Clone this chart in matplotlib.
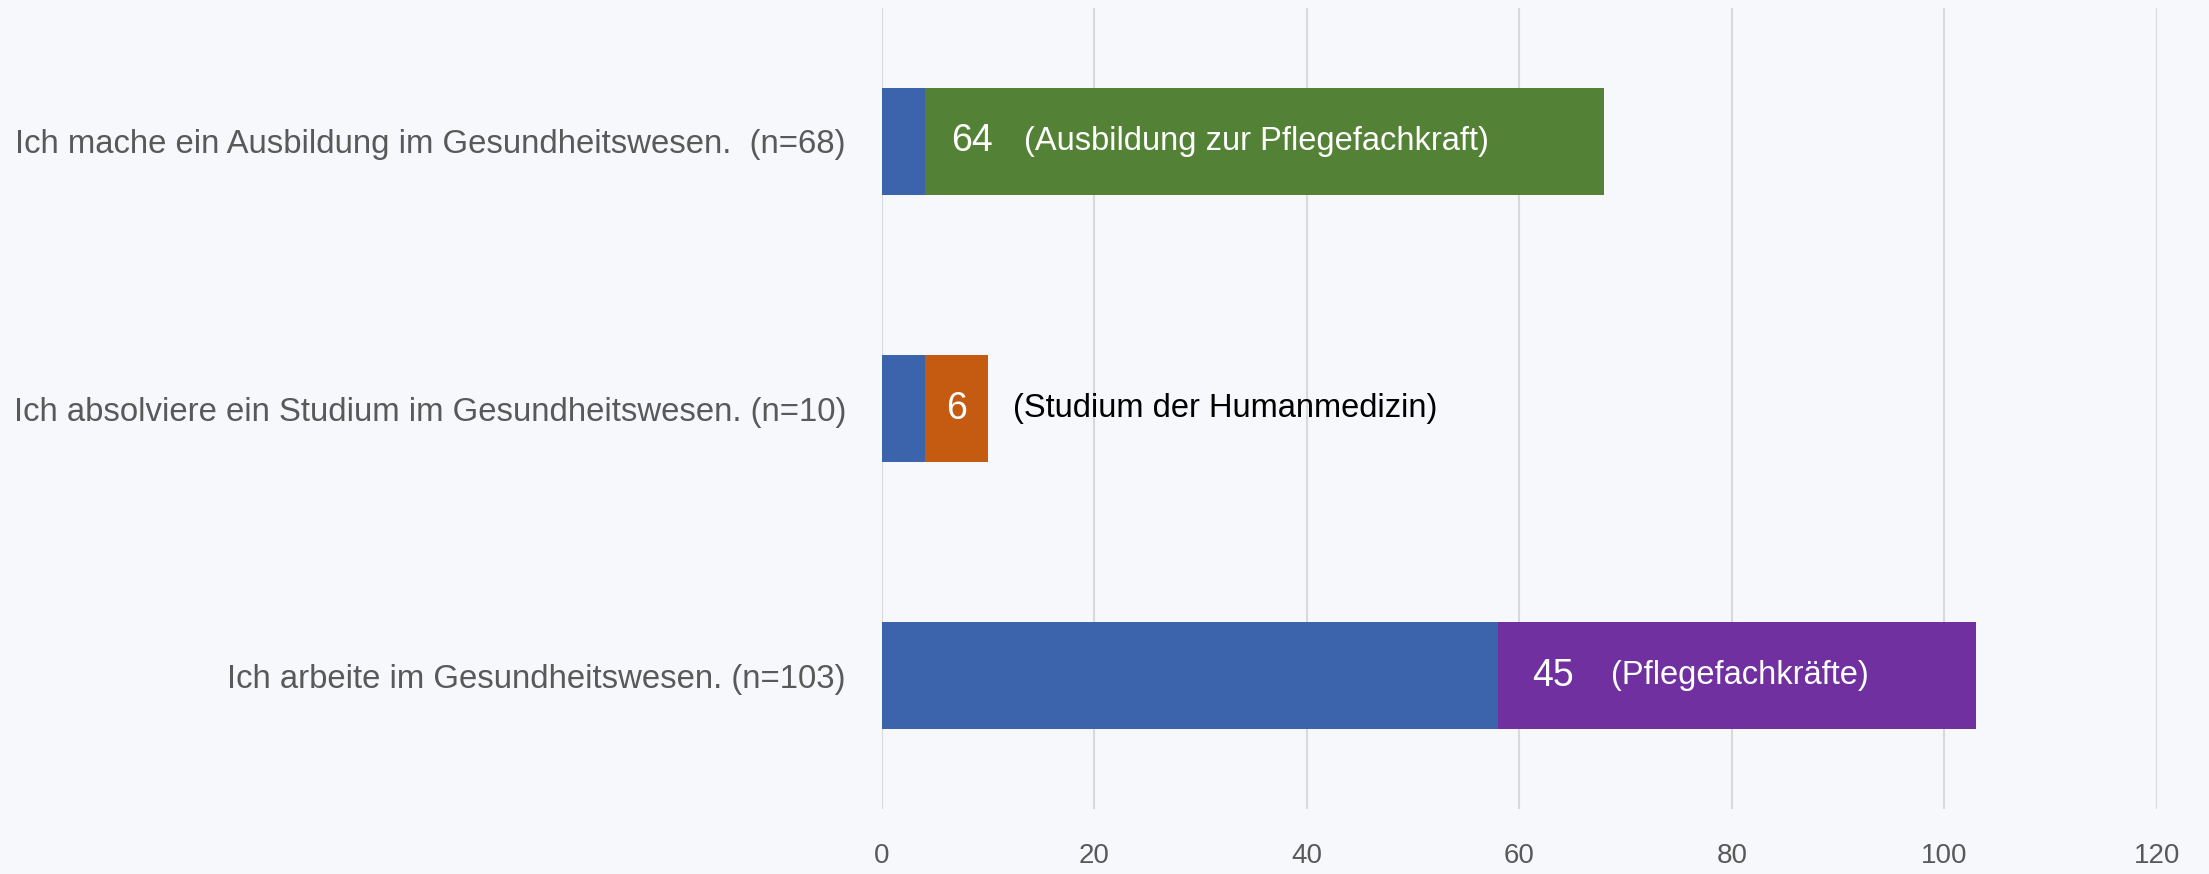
import numpy as np
import matplotlib
matplotlib.use('Agg')
import matplotlib.pyplot as plt

plt.rcParams['font.family'] = ['Liberation Sans', 'DejaVu Sans']

# categories from bottom to top
categories = [
    'Ich arbeite im Gesundheitswesen. (n=103)',
    'Ich absolviere ein Studium im Gesundheitswesen. (n=10)',
    'Ich mache ein Ausbildung im Gesundheitswesen.  (n=68)',
]
rest_values = [58, 4, 4]
special_values = [45, 6, 64]
special_labels = ['(Pflegefachkräfte)', '(Studium der Humanmedizin)', '(Ausbildung zur Pflegefachkraft)']
x_ticks = [0, 20, 40, 60, 80, 100, 120]

blue = '#3c64ac'
special_colors = ['#7030a0', '#c55a11', '#538135']
label_colors = ['white', 'black', 'white']
bg = '#f7f8fb'

# text placement (offset from the start of the coloured segment, x units)
num_offset = [3.2, None, 2.5]
desc_offset = [10.6, 8.3, 9.4]

fig = plt.figure(figsize=(22.09, 8.74), dpi=100)
fig.patch.set_facecolor(bg)
ax = fig.add_axes([0.3993, 0.074, 0.577, 0.917])
ax.set_facecolor(bg)

y = np.arange(len(categories))
ax.barh(y, rest_values, height=0.4, color=blue, zorder=3)
ax.barh(y, special_values, left=rest_values, height=0.4, color=special_colors, zorder=3)

# number in the coloured segment, then its description
for i in range(len(y)):
    start = rest_values[i]
    val = special_values[i]
    if num_offset[i] is None:
        ax.text(start + val / 2, y[i], str(val), color='white', fontsize=27,
                ha='center', va='center', zorder=4)
    else:
        ax.text(start + num_offset[i], y[i], str(val), color='white', fontsize=27,
                ha='left', va='center', zorder=4)
    ax.text(start + desc_offset[i], y[i], special_labels[i], color=label_colors[i],
            fontsize=23.5, ha='left', va='center', zorder=4)

ax.set_xlim(0, 120)
ax.set_ylim(-0.5, 2.5)
ax.set_xticks(x_ticks)
ax.set_xticklabels([str(t) for t in x_ticks])
ax.set_yticks(y)
ax.set_yticklabels(categories)
ax.tick_params(axis='both', length=0, labelcolor='#595959')
ax.tick_params(axis='y', pad=26, labelsize=23.7)
ax.tick_params(axis='x', pad=24, labelsize=20)
ax.grid(axis='x', color='#d9d9d9', linewidth=1.5, zorder=0)
for s in ax.spines.values():
    s.set_visible(False)

fig.savefig('out.png', dpi=100, facecolor=bg)
